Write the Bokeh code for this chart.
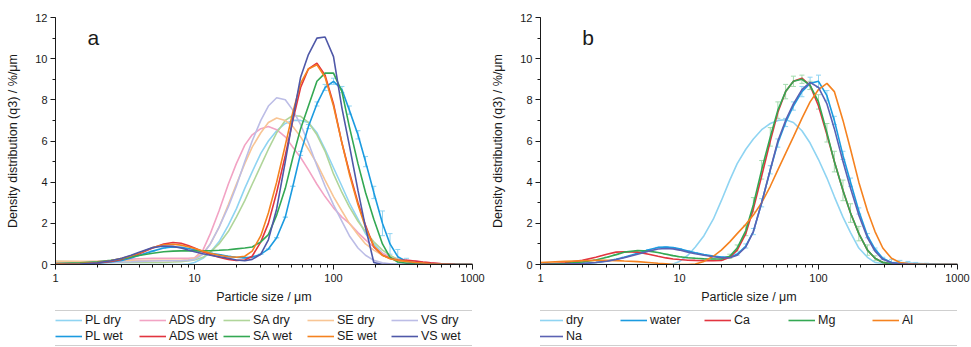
from bokeh.plotting import figure
from bokeh.models import (ColumnDataSource, FixedTicker, SingleIntervalTicker, Legend,
                          Label, Whisker, TeeHead, Range1d, BasicTickFormatter)
from bokeh.layouts import row, column
from bokeh.embed import file_html
from bokeh.resources import INLINE

# ---------------- data ----------------
size_um = [1, 1.5, 2, 2.5, 3, 3.5, 4, 5, 6, 7, 8, 9, 10, 11.5, 13, 15, 17.5, 20, 23, 26,
           30, 34, 39, 45, 51, 58, 66, 76, 87, 100, 115, 130, 150, 170, 195, 225, 255, 290,
           335, 385, 440, 500, 600, 750, 1000]

x_major_ticks = [1, 10, 100, 1000]
x_tick_labels = ["1", "10", "100", "1000"]

# panel a
pl_dry = [0, 0, 0, 0, 0, 0, 0, 0, 0, 0, 0, 0.02, 0.1, 0.3, 0.6, 1.1, 1.9, 2.7, 3.7, 4.5,
          5.4, 6.0, 6.5, 6.85, 7.0, 7.0, 6.9, 6.4, 5.6, 4.7, 3.8, 3.0, 2.2, 1.5, 1.0,
          0.55, 0.3, 0.18, 0.12, 0.08, 0.06, 0.05, 0.03, 0.01, 0]
pl_wet = [0, 0.02, 0.06, 0.12, 0.2, 0.32, 0.45, 0.65, 0.8, 0.85, 0.83, 0.78, 0.72, 0.62, 0.55,
          0.48, 0.4, 0.35, 0.32, 0.36, 0.5, 0.75, 1.3, 2.3, 3.8, 5.4, 6.7, 7.8, 8.6, 8.9,
          8.5, 7.5, 6.3, 5.0, 3.5, 2.0, 1.0, 0.38, 0.15, 0.08, 0.05, 0.04, 0.02, 0.01, 0]
ads_dry = [0.1, 0.12, 0.15, 0.18, 0.22, 0.26, 0.28, 0.3, 0.3, 0.3, 0.3, 0.3, 0.32, 0.7, 1.5,
           2.6, 3.9, 4.9, 5.8, 6.3, 6.6, 6.7, 6.55, 6.2, 5.7, 5.2, 4.6, 3.9, 3.3, 2.75,
           2.3, 2.0, 1.55, 1.2, 0.85, 0.55, 0.38, 0.28, 0.22, 0.17, 0.12, 0.08, 0.04, 0.01, 0]
ads_wet = [0.02, 0.04, 0.08, 0.15, 0.25, 0.38, 0.52, 0.8, 1.0, 1.07, 1.03, 0.92, 0.8, 0.62, 0.48,
           0.35, 0.25, 0.2, 0.22, 0.4, 1.1, 2.0, 3.5, 5.3, 7.0, 8.6, 9.5, 9.78, 9.2, 7.8,
           5.9, 4.5, 3.0, 1.9, 0.85, 0.45, 0.3, 0.22, 0.2, 0.17, 0.12, 0.08, 0.04, 0.01, 0]
sa_dry = [0.15, 0.13, 0.11, 0.1, 0.1, 0.1, 0.1, 0.1, 0.1, 0.12, 0.14, 0.17, 0.22, 0.35, 0.6,
          1.0, 1.6, 2.3, 3.1, 3.9, 4.8, 5.6, 6.4, 7.0, 7.24, 7.2, 6.9, 6.3, 5.5, 4.4,
          3.5, 2.8, 2.1, 1.6, 1.1, 0.7, 0.45, 0.25, 0.12, 0.06, 0.03, 0.02, 0.01, 0, 0]
sa_wet = [0.05, 0.08, 0.13, 0.2, 0.28, 0.36, 0.44, 0.55, 0.62, 0.65, 0.66, 0.66, 0.66, 0.66, 0.67,
          0.69, 0.72, 0.76, 0.8, 0.85, 1.1, 1.45, 2.4, 3.7, 5.2, 6.6, 7.7, 8.9, 9.3, 9.3,
          8.4, 6.7, 4.9, 3.5, 2.2, 1.0, 0.35, 0.12, 0.06, 0.03, 0.02, 0.01, 0, 0, 0]
se_dry = [0.15, 0.15, 0.16, 0.17, 0.18, 0.19, 0.2, 0.2, 0.2, 0.2, 0.21, 0.23, 0.3, 0.55, 1.0,
          1.8, 2.9, 3.9, 4.9, 5.7, 6.4, 6.9, 7.12, 7.0, 6.7, 6.2, 5.6, 4.9, 4.1, 3.3,
          2.6, 2.0, 1.45, 1.0, 0.7, 0.45, 0.3, 0.2, 0.13, 0.08, 0.05, 0.03, 0.01, 0, 0]
se_wet = [0.03, 0.05, 0.1, 0.18, 0.3, 0.42, 0.56, 0.82, 0.96, 0.98, 0.94, 0.86, 0.78, 0.65, 0.55,
          0.45, 0.38, 0.35, 0.4, 0.65, 1.4, 2.5, 4.0, 5.8, 7.4, 8.8, 9.5, 9.7, 9.1, 7.7,
          5.9, 4.4, 2.9, 1.8, 0.9, 0.45, 0.28, 0.2, 0.15, 0.1, 0.07, 0.04, 0.02, 0, 0]
vs_dry = [0.05, 0.06, 0.08, 0.1, 0.12, 0.13, 0.15, 0.17, 0.18, 0.18, 0.18, 0.2, 0.25, 0.5, 1.0,
          1.8, 2.8, 3.8, 5.0, 6.0, 7.0, 7.7, 8.1, 8.0, 7.5, 6.8, 5.9, 4.8, 3.8, 2.9,
          2.1, 1.4, 0.8, 0.45, 0.2, 0.08, 0.03, 0, 0, 0, 0, 0, 0, 0, 0]
vs_wet = [0, 0.02, 0.08, 0.18, 0.3, 0.45, 0.6, 0.82, 0.9, 0.88, 0.8, 0.7, 0.62, 0.52, 0.45,
          0.38, 0.3, 0.22, 0.18, 0.25, 0.5, 1.2, 2.7, 5.0, 7.1, 9.1, 10.2, 11.0, 11.05, 10.1,
          7.6, 5.8, 3.6, 1.8, 0.1, 0, 0, 0, 0, 0, 0, 0, 0, 0, 0]
pl_wet_err = [0, 0, 0, 0, 0, 0, 0, 0, 0, 0, 0, 0, 0, 0, 0, 0, 0, 0, 0, 0,
              0, 0, 0, 0, 0, 0.1, 0.1, 0.1, 0.15, 0.15, 0.15, 0.2, 0.2, 0.25, 0.3,
              0.6, 0.5, 0.35, 0.15, 0.1, 0, 0, 0, 0, 0]

# panel b
b_dry = [0, 0, 0, 0, 0, 0, 0, 0, 0, 0, 0, 0.03, 0.15, 0.45, 0.85, 1.4, 2.2, 3.1, 4.1, 4.9,
         5.6, 6.1, 6.55, 6.85, 7.0, 7.03, 6.9, 6.5, 5.9, 5.1, 4.2, 3.3, 2.3, 1.55, 0.8,
         0.35, 0.1, 0.05, 0.1, 0.1, 0.08, 0.06, 0.03, 0.01, 0]
b_water = [0, 0.02, 0.05, 0.1, 0.17, 0.25, 0.35, 0.55, 0.72, 0.83, 0.85, 0.82, 0.76, 0.66, 0.57,
           0.48, 0.41, 0.36, 0.36, 0.5, 0.9, 1.6, 3.0, 4.6, 5.9, 6.9, 7.7, 8.4, 8.8, 8.9,
           8.2, 7.0, 5.3, 4.0, 2.6, 1.4, 0.75, 0.3, 0.1, 0.05, 0.03, 0.02, 0.01, 0, 0]
b_ca = [0, 0.08, 0.2, 0.35, 0.5, 0.6, 0.62, 0.6, 0.5, 0.4, 0.32, 0.27, 0.24, 0.21, 0.2,
        0.19, 0.18, 0.2, 0.35, 0.7, 1.5, 2.7, 4.3, 6.0, 7.4, 8.4, 8.9, 9.05, 8.7, 7.7,
        6.3, 5.0, 3.6, 2.5, 1.5, 0.7, 0.3, 0.1, 0.04, 0.02, 0.01, 0, 0, 0, 0]
b_mg = [0, 0.05, 0.12, 0.22, 0.35, 0.48, 0.6, 0.68, 0.65, 0.58, 0.5, 0.43, 0.38, 0.33, 0.3,
        0.28, 0.27, 0.27, 0.4, 0.8, 1.65, 2.9, 4.6, 6.2, 7.5, 8.4, 8.9, 9.0, 8.7, 7.9,
        6.4, 5.0, 3.6, 2.5, 1.5, 0.7, 0.3, 0.1, 0.04, 0.02, 0.01, 0, 0, 0, 0]
b_al = [0.1, 0.15, 0.18, 0.2, 0.2, 0.19, 0.17, 0.14, 0.1, 0.06, 0.03, 0, 0, 0, 0.02,
        0.15, 0.4, 0.7, 1.1, 1.5, 1.95, 2.4, 3.0, 3.8, 4.6, 5.4, 6.2, 7.1, 7.9, 8.5,
        8.8, 8.4, 7.0, 5.6, 4.0, 2.6, 1.6, 0.8, 0.3, 0.1, 0.05, 0.02, 0.01, 0, 0]
b_na = [0, 0.02, 0.05, 0.1, 0.16, 0.24, 0.33, 0.5, 0.65, 0.75, 0.78, 0.76, 0.7, 0.6, 0.52,
        0.45, 0.38, 0.33, 0.33, 0.45, 0.85, 1.6, 3.0, 4.6, 6.0, 7.0, 7.8, 8.5, 8.85, 8.6,
        7.8, 6.6, 5.0, 3.7, 2.4, 1.3, 0.65, 0.25, 0.08, 0.04, 0.02, 0.01, 0, 0, 0]
b_mg_err = [0, 0, 0, 0, 0, 0, 0, 0, 0, 0, 0, 0, 0, 0, 0, 0, 0, 0.05, 0.1, 0.15,
            0.25, 0.35, 0.45, 0.45, 0.4, 0.35, 0.25, 0.2, 0.2, 0.35, 0.45, 0.5, 0.5, 0.45, 0.35,
            0.25, 0.12, 0.05, 0, 0, 0, 0, 0, 0, 0]
b_water_err = [0, 0, 0, 0, 0, 0, 0, 0, 0, 0, 0, 0, 0, 0, 0, 0, 0, 0, 0, 0.05,
               0.1, 0.15, 0.2, 0.2, 0.2, 0.2, 0.2, 0.25, 0.3, 0.3, 0.25, 0.2, 0.2, 0.2, 0.15,
               0.1, 0.05, 0.05, 0.15, 0.15, 0.12, 0.08, 0.05, 0, 0]

FONT = "Liberation Sans"
TXT = "#1a1a1a"

names_a = ["PL dry", "ADS dry", "SA dry", "SE dry", "VS dry",
           "PL wet", "ADS wet", "SA wet", "SE wet", "VS wet"]
data_a = [pl_dry, ads_dry, sa_dry, se_dry, vs_dry, pl_wet, ads_wet, sa_wet, se_wet, vs_wet]
colors_a = ["#8fd4f2", "#f2a3c4", "#b0d59a", "#f8c595", "#bcbde6",
            "#1b9be0", "#e2343f", "#33a853", "#f5821f", "#4f58a8"]
errs_a = {"PL wet": (pl_wet_err, "#8fd4f2")}

names_b = ["dry", "water", "Ca", "Mg", "Al", "Na"]
data_b = [b_dry, b_water, b_ca, b_mg, b_al, b_na]
colors_b = ["#8fd4f2", "#1b9be0", "#e2343f", "#33a853", "#f5821f", "#5b62b3"]
errs_b = {"Mg": (b_mg_err, "#a3dcae"), "water": (b_water_err, "#8fd4f2")}

PANEL_H = 306
LEG_H = 41


def make_panel(names, data, colors, errs, letter, letter_x, width, bl, br, leg_dx):
    p = figure(width=width, height=PANEL_H, x_axis_type="log",
               x_range=Range1d(1, 1000), y_range=Range1d(0, 12),
               output_backend="svg", toolbar_location=None,
               min_border_left=bl, min_border_right=br, min_border_top=17,
               min_border_bottom=42)
    p.outline_line_color = None
    p.xgrid.visible = False
    p.ygrid.visible = False

    minor = [m * d for d in (1, 10, 100) for m in range(2, 10)]
    p.xaxis.ticker = FixedTicker(ticks=x_major_ticks, minor_ticks=minor)
    p.xaxis.formatter = BasicTickFormatter(use_scientific=False)
    p.xaxis.major_label_overrides = {t: l for t, l in zip(x_major_ticks, x_tick_labels)}
    p.yaxis.ticker = SingleIntervalTicker(interval=2, num_minor_ticks=2)
    p.xaxis.axis_label = "Particle size / μm"
    p.yaxis.axis_label = "Density distribution (q3) / %/μm"
    for ax in (p.xaxis[0], p.yaxis[0]):
        ax.axis_line_color = TXT
        ax.major_tick_line_color = TXT
        ax.minor_tick_line_color = TXT
        ax.major_tick_out = 5
        ax.major_tick_in = 0
        ax.minor_tick_out = 3
        ax.minor_tick_in = 0
        ax.major_label_text_font = FONT
        ax.major_label_text_font_size = "11px"
        ax.major_label_text_color = TXT
        ax.axis_label_text_font = FONT
        ax.axis_label_text_font_size = "12.5px"
        ax.axis_label_text_font_style = "normal"
        ax.axis_label_text_color = TXT
    p.xaxis.major_label_standoff = 4
    p.xaxis.axis_label_standoff = 5
    p.yaxis.major_label_standoff = 3
    p.yaxis.axis_label_standoff = 12

    src = ColumnDataSource({"x": size_um, **{n: d for n, d in zip(names, data)}})
    for n in names:
        if n in errs:
            e, ec = errs[n]
            ys = src.data[n]
            esrc = ColumnDataSource({"x": size_um,
                                     "lo": [y - v for y, v in zip(ys, e)],
                                     "hi": [y + v for y, v in zip(ys, e)]})
            w = Whisker(source=esrc, base="x", lower="lo", upper="hi",
                        line_color=ec, line_width=1,
                        lower_head=TeeHead(size=5, line_color=ec, line_width=1),
                        upper_head=TeeHead(size=5, line_color=ec, line_width=1))
            p.add_layout(w)
    for n, c in zip(names, colors):
        p.line("x", n, source=src, line_color=c, line_width=1.6)

    p.add_layout(Label(x=letter_x, y=11.05, text=letter, text_font=FONT,
                       text_font_size="21px", text_color=TXT,
                       text_baseline="alphabetic", text_align="left"))

    # legend strip below the panel (same series; glyphs only shown in the legend)
    lf = figure(width=width, height=LEG_H, x_range=Range1d(1, 1000), y_range=Range1d(0, 12),
                x_axis_type="log", output_backend="svg", toolbar_location=None,
                x_axis_location=None, y_axis_location=None, min_border=0)
    lf.outline_line_color = None
    lf.xgrid.visible = False
    lf.ygrid.visible = False
    items = []
    for n, c in zip(names, colors):
        r = lf.line("x", n, source=src, line_color=c, line_width=1.6, visible=False)
        items.append((n, [r]))
    legend = Legend(items=items, ncols=5, orientation="horizontal", location=(leg_dx, 1),
                    border_line_color="#a0a0a0", border_line_width=1,
                    label_text_font=FONT, label_text_font_size="12.5px",
                    label_text_color=TXT,
                    glyph_width=27, glyph_height=16, label_height=16,
                    label_width=54, label_standoff=3, spacing=0, padding=1,
                    margin=0, inactive_fill_alpha=0)
    lf.add_layout(legend, "center")
    return column(p, lf, spacing=0)


pa = make_panel(names_a, data_a, colors_a, errs_a, "a", 1.7, 488, 55, 16, -2)
pb = make_panel(names_b, data_b, colors_b, errs_b, "b", 2.0, 483, 52, 14, -6)

layout = row(pa, pb)
open("out.html", "w").write(file_html(layout, INLINE))
